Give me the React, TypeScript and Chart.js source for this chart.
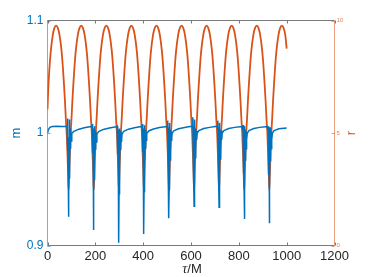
import React, { useEffect, useRef } from "react";
import { Chart, registerables } from "chart.js";

Chart.register(...registerables);

// Axis ticks
const xTicks = [0, 200, 400, 600, 800, 1000, 1200];
const mTicks = [0.9, 1, 1.1];
const rTicks = [0, 5, 10];

// r (right axis) : proper time tau and radius
const rTau = [
  0, 3, 7, 13, 22, 29, 36,
  43, 50, 59, 64.5, 69, 73, 76.5, 80.5, 84, 86.5, 88.5,
  90.5, 93, 96.5, 100.5, 104, 108, 112.5, 118, 127, 134, 141,
  148, 155, 164, 169.5, 174, 178, 181.5, 185.5, 189, 191.5, 193.5,
  195.5, 198, 201.5, 205.5, 209, 213, 217.5, 223, 232, 239, 246,
  253, 260, 269, 274.5, 279, 283, 286.5, 290.5, 294, 296.5, 298.5,
  300.5, 303, 306.5, 310.5, 314, 318, 322.5, 328, 337, 344, 350.5,
  357.5, 364.5, 373.5, 379, 383.5, 387.5, 391, 395, 398.5, 401, 403,
  405, 407.5, 411, 415, 418.5, 422.5, 427, 432.5, 441.5, 448.5, 455.5,
  462.5, 469.5, 478.5, 484, 488.5, 492.5, 496, 500, 503.5, 506, 508,
  510, 512.5, 516, 520, 523.5, 527.5, 532, 537.5, 546.5, 553.5, 560.5,
  567.5, 574.5, 583.5, 589, 593.5, 597.5, 601, 605, 608.5, 611, 613,
  615, 617.5, 621, 625, 628.5, 632.5, 637, 642.5, 651.5, 658.5, 665,
  672, 679, 688, 693.5, 698, 702, 705.5, 709.5, 713, 715.5, 717.5,
  719.5, 722, 725.5, 729.5, 733, 737, 741.5, 747, 756, 763, 770,
  777, 784, 793, 798.5, 803, 807, 810.5, 814.5, 818, 820.5, 822.5,
  824.5, 827, 830.5, 834.5, 838, 842, 846.5, 852, 861, 868, 875,
  882, 889, 898, 903.5, 908, 912, 915.5, 919.5, 923, 925.5, 927.5,
  929.5, 932, 935.5, 939.5, 943, 947, 951.5, 957, 966, 973, 980,
  987, 994, 1000,
];
const rVal = [
  6.05, 6.9, 7.7, 8.55, 9.35, 9.67, 9.77,
  9.67, 9.37, 8.63, 7.89, 7.15, 6.41, 5.67, 4.92, 3.9, 3.1, 2.47,
  3.1, 3.9, 4.92, 5.67, 6.41, 7.15, 7.89, 8.63, 9.37, 9.67, 9.77,
  9.67, 9.37, 8.63, 7.89, 7.15, 6.41, 5.67, 4.92, 3.9, 3.1, 2.47,
  3.1, 3.9, 4.92, 5.67, 6.41, 7.15, 7.89, 8.63, 9.37, 9.67, 9.77,
  9.67, 9.37, 8.63, 7.89, 7.15, 6.41, 5.67, 4.92, 3.9, 3.1, 2.47,
  3.1, 3.9, 4.92, 5.67, 6.41, 7.15, 7.89, 8.63, 9.37, 9.67, 9.77,
  9.67, 9.37, 8.63, 7.89, 7.15, 6.41, 5.67, 4.92, 3.9, 3.1, 2.47,
  3.1, 3.9, 4.92, 5.67, 6.41, 7.15, 7.89, 8.63, 9.37, 9.67, 9.77,
  9.67, 9.37, 8.63, 7.89, 7.15, 6.41, 5.67, 4.92, 3.9, 3.1, 2.47,
  3.1, 3.9, 4.92, 5.67, 6.41, 7.15, 7.89, 8.63, 9.37, 9.67, 9.77,
  9.67, 9.37, 8.63, 7.89, 7.15, 6.41, 5.67, 4.92, 3.9, 3.1, 2.47,
  3.1, 3.9, 4.92, 5.67, 6.41, 7.15, 7.89, 8.63, 9.37, 9.67, 9.77,
  9.67, 9.37, 8.63, 7.89, 7.15, 6.41, 5.67, 4.92, 3.9, 3.1, 2.47,
  3.1, 3.9, 4.92, 5.67, 6.41, 7.15, 7.89, 8.63, 9.37, 9.67, 9.77,
  9.67, 9.37, 8.63, 7.89, 7.15, 6.41, 5.67, 4.92, 3.9, 3.1, 2.47,
  3.1, 3.9, 4.92, 5.67, 6.41, 7.15, 7.89, 8.63, 9.37, 9.67, 9.77,
  9.67, 9.37, 8.63, 7.89, 7.15, 6.41, 5.67, 4.92, 3.9, 3.1, 2.47,
  3.1, 3.9, 4.92, 5.67, 6.41, 7.15, 7.89, 8.63, 9.37, 9.67, 9.77,
  9.67, 9.37, 8.75,
];

// m (left axis) : proper time tau and value
const mTau = [
  0, 4, 10, 20, 40, 60,
  79.5, 81.5, 82.5, 83.5, 84.5, 85.5, 86.5, 87.2, 87.9, 88.5, 89.1, 89.8, 90.7, 91.7, 93, 94.5, 96, 97.5, 99.5, 101.5, 108.5, 128.5, 153.5, 176.5,
  184.5, 186.5, 187.5, 188.5, 189.5, 190.5, 191.5, 192.2, 192.9, 193.5, 194.1, 194.8, 195.7, 196.7, 198, 199.5, 201, 202.5, 204.5, 206.5, 213.5, 233.5, 258.5, 281.5,
  289.5, 291.5, 292.5, 293.5, 294.5, 295.5, 296.5, 297.2, 297.9, 298.5, 299.1, 299.8, 300.7, 301.7, 303, 304.5, 306, 307.5, 309.5, 311.5, 318.5, 338.5, 363.5, 386.5,
  394, 396, 397, 398, 399, 400, 401, 401.7, 402.4, 403, 403.6, 404.3, 405.2, 406.2, 407.5, 409, 410.5, 412, 414, 416, 423, 443, 468, 491,
  499, 501, 502, 503, 504, 505, 506, 506.7, 507.4, 508, 508.6, 509.3, 510.2, 511.2, 512.5, 514, 515.5, 517, 519, 521, 528, 548, 573, 596,
  604, 606, 607, 608, 609, 610, 611, 611.7, 612.4, 613, 613.6, 614.3, 615.2, 616.2, 617.5, 619, 620.5, 622, 624, 626, 633, 653, 678, 701,
  708.5, 710.5, 711.5, 712.5, 713.5, 714.5, 715.5, 716.2, 716.9, 717.5, 718.1, 718.8, 719.7, 720.7, 722, 723.5, 725, 726.5, 728.5, 730.5, 737.5, 757.5, 782.5, 805.5,
  813.5, 815.5, 816.5, 817.5, 818.5, 819.5, 820.5, 821.2, 821.9, 822.5, 823.1, 823.8, 824.7, 825.7, 827, 828.5, 830, 831.5, 833.5, 835.5, 842.5, 862.5, 887.5, 910.5,
  918.5, 920.5, 921.5, 922.5, 923.5, 924.5, 925.5, 926.2, 926.9, 927.5, 928.1, 928.8, 929.7, 930.7, 932, 933.5, 935, 936.5, 938.5, 940.5, 947.5, 967.5, 1000,
];
const mVal = [
  1.0, 1.003, 1.005, 1.0057, 1.006, 1.0058,
  1.006, 1.0066, 1.003, 1.013, 0.984, 1.006, 0.965, 0.996, 0.952, 0.9256, 0.95, 0.986, 0.96, 1.012, 0.976, 1.004, 0.986, 1.001, 0.993, 0.9995, 1.0012, 1.0032, 1.0046, 1.0055,
  1.0057, 1.0063, 1.003, 1.008, 0.982, 1.004, 0.962, 0.994, 0.95, 0.9138, 0.948, 0.984, 0.958, 1.006, 0.975, 1.002, 0.985, 1.0, 0.992, 0.999, 1.0012, 1.0032, 1.0045, 1.0054,
  1.0056, 1.006, 1.002, 1.005, 0.981, 1.003, 0.96, 0.993, 0.948, 0.9025, 0.946, 0.983, 0.956, 1.004, 0.974, 1.002, 0.985, 1.0, 0.992, 0.999, 1.0015, 1.0034, 1.0047, 1.0055,
  1.0057, 1.0062, 1.003, 1.008, 0.983, 1.004, 0.962, 0.994, 0.95, 0.9102, 0.948, 0.984, 0.958, 1.007, 0.975, 1.003, 0.986, 1.001, 0.993, 0.9995, 1.0018, 1.0036, 1.0048, 1.0056,
  1.0058, 1.0064, 1.003, 1.011, 0.984, 1.005, 0.965, 0.995, 0.952, 0.9242, 0.95, 0.985, 0.96, 1.009, 0.976, 1.003, 0.986, 1.001, 0.993, 0.9998, 1.002, 1.0038, 1.0049, 1.0057,
  1.0059, 1.0065, 1.004, 1.014, 0.986, 1.006, 0.967, 0.996, 0.955, 0.935, 0.953, 0.987, 0.962, 1.012, 0.978, 1.004, 0.987, 1.002, 0.994, 1.0, 1.0022, 1.004, 1.005, 1.0057,
  1.0058, 1.0064, 1.003, 1.011, 0.985, 1.005, 0.966, 0.995, 0.954, 0.934, 0.952, 0.986, 0.961, 1.009, 0.977, 1.003, 0.987, 1.002, 0.994, 1.0, 1.0022, 1.004, 1.005, 1.0056,
  1.0057, 1.0062, 1.003, 1.007, 0.984, 1.004, 0.964, 0.994, 0.952, 0.9236, 0.95, 0.985, 0.96, 1.006, 0.976, 1.003, 0.986, 1.001, 0.994, 1.0, 1.0022, 1.004, 1.005, 1.0056,
  1.0057, 1.0061, 1.003, 1.006, 0.983, 1.003, 0.963, 0.994, 0.951, 0.9197, 0.949, 0.984, 0.959, 1.005, 0.975, 1.003, 0.986, 1.001, 0.994, 1.0, 1.0022, 1.0038, 1.0045,
];

const BLUE = "#0072BD";
const ORANGE = "#D95319";
const SANS = "'Liberation Sans', Arial, sans-serif";

export default function App() {
  const ref = useRef<HTMLCanvasElement>(null);

  useEffect(() => {
    const canvas = ref.current;
    if (!canvas) return;
    const mData = mTau.map((t, i) => ({ x: t, y: mVal[i] }));
    const rData = rTau.map((t, i) => ({ x: t, y: rVal[i] }));

    const framePlugin = {
      id: "matlabFrame",
      afterDraw(chart: any) {
        const ctx = chart.ctx;
        const { left, right, top, bottom } = chart.chartArea;
        const sx = chart.scales.x;
        const sy = chart.scales.y;
        const sr = chart.scales.y2;
        const tl = 3;
        ctx.save();
        ctx.lineWidth = 1;
        // top and bottom
        ctx.strokeStyle = "#7a7a7a";
        ctx.beginPath();
        ctx.moveTo(left, top);
        ctx.lineTo(right, top);
        ctx.moveTo(left, bottom);
        ctx.lineTo(right, bottom);
        for (const v of xTicks) {
          const px = Math.round(sx.getPixelForValue(v)) + 0.5;
          ctx.moveTo(px, top);
          ctx.lineTo(px, top + tl);
          ctx.moveTo(px, bottom);
          ctx.lineTo(px, bottom - tl);
        }
        ctx.stroke();
        // left axis
        ctx.strokeStyle = "rgba(0,114,189,0.55)";
        ctx.beginPath();
        ctx.moveTo(left, top);
        ctx.lineTo(left, bottom);
        for (const v of mTicks) {
          const py = Math.round(sy.getPixelForValue(v)) + 0.5;
          ctx.moveTo(left, py);
          ctx.lineTo(left + tl, py);
        }
        ctx.stroke();
        // right axis
        ctx.strokeStyle = "rgba(217,83,25,0.55)";
        ctx.beginPath();
        ctx.moveTo(right, top);
        ctx.lineTo(right, bottom);
        for (const v of rTicks) {
          const py = Math.round(sr.getPixelForValue(v)) + 0.5;
          ctx.moveTo(right, py);
          ctx.lineTo(right - tl, py);
        }
        ctx.stroke();

        // axis titles
        const midY = (top + bottom) / 2;
        ctx.font = `13px ${SANS}`;
        ctx.textAlign = "center";
        ctx.textBaseline = "alphabetic";
        ctx.fillStyle = BLUE;
        ctx.save();
        ctx.translate(20, midY);
        ctx.rotate(-Math.PI / 2);
        ctx.fillText("m", 0, 0);
        ctx.restore();
        ctx.fillStyle = ORANGE;
        ctx.save();
        ctx.translate(355, midY);
        ctx.rotate(-Math.PI / 2);
        ctx.fillText("r", 0, 0);
        ctx.restore();

        // x title: tau/M
        const tauFont = `italic 14px 'Liberation Serif', 'DejaVu Serif', serif`;
        const mFont = `13px ${SANS}`;
        ctx.font = tauFont;
        const w1 = ctx.measureText("\u03c4").width;
        ctx.font = mFont;
        const w2 = ctx.measureText("/M").width;
        const cx = (left + right) / 2 + 1;
        const x0 = cx - (w1 + w2) / 2;
        const by = 273;
        ctx.fillStyle = "#262626";
        ctx.textAlign = "left";
        ctx.font = tauFont;
        ctx.fillText("\u03c4", x0, by);
        ctx.font = mFont;
        ctx.fillText("/M", x0 + w1, by);
        ctx.restore();
      },
    };

    const chart = new Chart(canvas, {
      type: "line",
      data: {
        datasets: [
          {
            label: "m",
            data: mData,
            yAxisID: "y",
            borderColor: BLUE,
            borderWidth: 1.5,
            pointRadius: 0,
            tension: 0,
            fill: false,
          },
          {
            label: "r",
            data: rData,
            yAxisID: "y2",
            borderColor: ORANGE,
            borderWidth: 1.8,
            pointRadius: 0,
            cubicInterpolationMode: "monotone",
            fill: false,
          },
        ],
      },
      options: {
        responsive: false,
        maintainAspectRatio: false,
        animation: false,
        events: [],
        layout: { padding: { top: 20.5, left: 0, right: 0, bottom: 0 } },
        plugins: { legend: { display: false }, tooltip: { enabled: false }, title: { display: false } },
        scales: {
          x: {
            type: "linear",
            position: "bottom",
            min: 0,
            max: 1200,
            grid: { display: false, drawTicks: false },
            border: { display: false },
            afterBuildTicks: (s: any) => {
              s.ticks = xTicks.map((v) => ({ value: v }));
            },
            afterFit: (s: any) => {
              s.height = 31.5;
            },
            ticks: {
              padding: 3,
              color: "#262626",
              font: { family: SANS, size: 13 },
              maxRotation: 0,
              autoSkip: false,
              callback: (v: any) => String(v),
            },
          },
          y: {
            type: "linear",
            position: "left",
            min: 0.9,
            max: 1.1,
            grid: { display: false, drawTicks: false },
            border: { display: false },
            afterBuildTicks: (s: any) => {
              s.ticks = mTicks.map((v) => ({ value: v }));
            },
            afterFit: (s: any) => {
              s.width = 47.5;
            },
            ticks: {
              padding: 4,
              color: BLUE,
              font: { family: SANS, size: 12 },
              callback: (v: any) => String(v),
            },
          },
          y2: {
            type: "linear",
            position: "right",
            min: 0,
            max: 10,
            grid: { display: false, drawTicks: false },
            border: { display: false },
            afterBuildTicks: (s: any) => {
              s.ticks = rTicks.map((v) => ({ value: v }));
            },
            afterFit: (s: any) => {
              s.width = 34.5;
            },
            ticks: {
              padding: 2,
              color: "rgba(217,83,25,0.75)",
              font: { family: SANS, size: 6 },
              callback: (v: any) => String(v),
            },
          },
        },
      },
      plugins: [framePlugin],
    } as any);

    return () => chart.destroy();
  }, []);

  return (
    <div style={{ position: "fixed", left: 0, top: 0, width: 369, height: 277, background: "#fff" }}>
      <canvas ref={ref} width={369} height={277} style={{ display: "block" }} />
    </div>
  );
}
